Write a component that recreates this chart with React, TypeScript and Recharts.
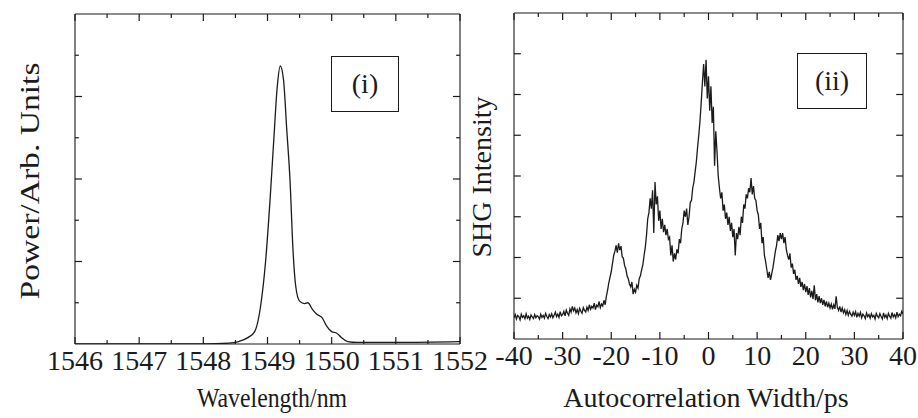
import React from 'react';
import { LineChart, Line, XAxis, YAxis, ReferenceLine } from 'recharts';

// (i) optical spectrum
const wavelengthNm = [
  1546, 1547, 1548, 1548.4, 1548.55, 1548.7, 1548.8, 1548.9, 1548.97, 1549.04,
  1549.1, 1549.15, 1549.2, 1549.25, 1549.3, 1549.35, 1549.4, 1549.44, 1549.5, 1549.58,
  1549.63, 1549.7, 1549.77, 1549.85, 1549.92, 1550.0, 1550.08, 1550.15, 1550.25, 1550.4,
  1551, 1552,
];
const spectrumPower = [
  0, 0, 0, 0.01, 0.03, 0.08, 0.15, 0.5, 1.0, 1.75,
  2.5, 3.1, 3.37, 3.2, 2.6, 2.0, 1.1, 0.7, 0.52, 0.49,
  0.5, 0.42, 0.36, 0.32, 0.22, 0.15, 0.13, 0.08, 0.03, 0.02,
  0.02, 0.03,
];
const wavelengthTicks = [1546, 1547, 1548, 1549, 1550, 1551, 1552];
const wavelengthMinorTicks = [1546.5, 1547.5, 1548.5, 1549.5, 1550.5, 1551.5];
const powerTicks = [1, 2, 3];
const powerMinorTicks = [0.5, 1.5, 2.5, 3.5];

// (ii) SHG autocorrelation trace, sampled every 0.25 ps from -40 ps
const delayStartPs = -40;
const delayStepPs = 0.25;
const shgIntensity = [
  // -40 .. -35.25
  0.52, 0.6, 0.49, 0.58, 0.55, 0.47, 0.61, 0.53, 0.57, 0.5, 0.62, 0.51, 0.56, 0.48, 0.59, 0.54, 0.5, 0.6, 0.52, 0.57,
  // -35 .. -30.25
  0.55, 0.49, 0.61, 0.53, 0.58, 0.51, 0.63, 0.55, 0.5, 0.6, 0.54, 0.62, 0.52, 0.58, 0.66, 0.55, 0.61, 0.53, 0.67, 0.57,
  // -30 .. -25.25
  0.6, 0.68, 0.57, 0.71, 0.63, 0.58, 0.74, 0.66, 0.8, 0.69, 0.76, 0.64, 0.72, 0.62, 0.75, 0.68, 0.63, 0.77, 0.7, 0.66,
  // -25 .. -20.25
  0.78, 0.7, 0.84, 0.73, 0.8, 0.76, 0.88, 0.72, 0.83, 0.79, 0.92, 0.77, 0.86, 0.81, 0.95, 0.84, 1.05, 1.2, 1.38, 1.52,
  // -20 .. -15.25
  1.65, 1.85, 2.05, 2.15, 2.3, 2.12, 2.35, 2.18, 2.28, 2.02, 1.98, 1.8, 1.72, 1.55, 1.48, 1.35, 1.28, 1.4, 1.1, 1.22,
  // -15 .. -10.25
  1.15, 1.32, 1.25, 1.48, 1.55, 1.7, 1.82, 2.05, 2.25, 2.55, 2.95, 3.1, 3.45, 3.2, 3.65, 2.6, 3.85, 3.3, 3.5, 2.9,
  // -10 .. -5.25
  3.15, 2.7, 2.95, 2.62, 2.8, 2.55, 2.7, 2.45, 2.5, 2.05, 2.3, 1.9, 2.1, 1.95, 2.2, 2.1, 2.45, 2.35, 2.7, 2.85,
  // -5 .. -0.25
  3.15, 3.0, 3.2, 2.8, 3.0, 3.35, 3.4, 3.7, 3.85, 4.1, 4.35, 4.7, 5.0, 5.35, 5.8, 6.3, 6.75, 6.2, 6.85, 5.9,
  // 0 .. 4.75
  6.45, 5.6, 6.2, 5.3, 5.7, 4.25, 5.1, 4.6, 4.0, 3.7, 3.45, 3.6, 3.15, 3.3, 2.95, 3.1, 2.8, 3.0, 2.65, 2.85,
  // 5 .. 9.75
  2.5, 2.7, 2.05, 2.6, 2.45, 2.75, 2.55, 3.0, 2.85, 3.3, 3.2, 3.55, 3.45, 3.7, 3.6, 3.95, 3.55, 3.75, 3.45, 3.4,
  // 10 .. 14.75
  3.15, 3.05, 2.7, 2.85, 2.35, 2.5, 2.05, 1.9, 1.7, 1.5, 1.65, 1.45, 1.6, 1.75, 1.95, 2.15, 2.3, 2.55, 2.4, 2.6,
  // 15 .. 19.75
  2.45, 2.6, 2.35, 2.5, 2.2, 2.05, 1.95, 2.1, 1.75, 1.85, 1.6, 1.7, 1.45, 1.55, 1.35, 1.5, 1.28, 1.4, 1.2, 1.35,
  // 20 .. 24.75
  1.15, 1.3, 1.08, 1.25, 1.02, 1.18, 0.98, 1.32, 0.95, 1.1, 0.9, 1.05, 0.88, 1.0, 0.84, 0.96, 0.8, 0.92, 0.78, 0.88,
  // 25 .. 29.75
  0.76, 0.86, 0.73, 0.84, 0.74, 1.05, 0.78, 0.7, 0.8, 0.66, 0.76, 0.64, 0.72, 0.6, 0.7, 0.58, 0.68, 0.61, 0.56, 0.66,
  // 30 .. 34.75
  0.58, 0.67, 0.53, 0.63, 0.56, 0.65, 0.52, 0.61, 0.57, 0.5, 0.64, 0.55, 0.6, 0.51, 0.62, 0.54, 0.58, 0.49, 0.63, 0.56,
  // 35 .. 39.75
  0.52, 0.62, 0.55, 0.49, 0.64, 0.53, 0.59, 0.5, 0.63, 0.56, 0.51, 0.65, 0.54, 0.6, 0.52, 0.66, 0.55, 0.61, 0.57, 0.68,
  // 40
  0.62,
];
const delayTicks = [-40, -30, -20, -10, 0, 10, 20, 30, 40];
const delayMinorTicks = [-35, -25, -15, -5, 5, 15, 25, 35];
const shgTicks = [1, 2, 3, 4, 5, 6, 7];

const spectrumData = wavelengthNm.map((wl, i) => ({ wl, p: spectrumPower[i] }));
const shgData = shgIntensity.map((v, i) => ({ t: delayStartPs + i * delayStepPs, v }));

const INK = '#1b1b1b';
const FONT = "'Liberation Serif', 'DejaVu Serif', serif";

// tick labels under the frame (y arrives at the frame's bottom edge)
const TickLabel = (props: any) => {
  const { x, y, payload } = props;
  return (
    <text x={x} y={y + 26} textAnchor="middle" fontFamily={FONT} fontSize={28} fill={INK}>
      {payload.value}
    </text>
  );
};
const NoTick = () => <g />;

function frameAxes(xKey: string, domainX: [number, number], majorX: number[], domainY: [number, number]) {
  const common = {
    type: 'number' as const,
    allowDataOverflow: true,
    mirror: true,
    tickSize: 0,
    tickMargin: 0,
    interval: 0 as const,
    tickLine: false,
    axisLine: { stroke: INK, strokeWidth: 1.1 },
  };
  return [
    <XAxis key="xb" xAxisId="x" dataKey={xKey} {...common} height={1} domain={domainX} ticks={majorX} orientation="bottom" tick={TickLabel} />,
    <XAxis key="xt" xAxisId="xt" dataKey={xKey} {...common} height={1} domain={domainX} ticks={majorX} orientation="top" tick={NoTick} />,
    <YAxis key="yl" yAxisId="y" {...common} width={1} domain={domainY} orientation="left" tick={NoTick} />,
    <YAxis key="yr" yAxisId="yr" {...common} width={1} domain={domainY} orientation="right" tick={NoTick} />,
  ];
}

// inward tick marks as short segments on the data scales; dx/dy = mark length in axis units
function tickMarks(
  domainX: [number, number],
  domainY: [number, number],
  xs: number[],
  ys: number[],
  dx: number,
  dy: number,
  prefix: string,
) {
  const s = { xAxisId: 'x', yAxisId: 'y', stroke: INK, strokeWidth: 1.2, ifOverflow: 'visible' as const };
  const out: React.ReactNode[] = [];
  xs.forEach((x, i) => {
    out.push(<ReferenceLine key={`${prefix}b${i}`} {...s} segment={[{ x, y: domainY[0] }, { x, y: domainY[0] + dy }]} />);
    out.push(<ReferenceLine key={`${prefix}t${i}`} {...s} segment={[{ x, y: domainY[1] }, { x, y: domainY[1] - dy }]} />);
  });
  ys.forEach((y, i) => {
    out.push(<ReferenceLine key={`${prefix}l${i}`} {...s} segment={[{ x: domainX[0], y }, { x: domainX[0] + dx, y }]} />);
    out.push(<ReferenceLine key={`${prefix}r${i}`} {...s} segment={[{ x: domainX[1], y }, { x: domainX[1] - dx, y }]} />);
  });
  return out;
}

const textBase: React.CSSProperties = {
  position: 'absolute',
  fontFamily: FONT,
  fontSize: 28,
  color: INK,
  whiteSpace: 'nowrap',
  lineHeight: 1,
};

function HText({ cx, cy, sx = 1, children }: { cx: number; cy: number; sx?: number; children: React.ReactNode }) {
  return (
    <div style={{ ...textBase, left: cx, top: cy, transform: `translate(-50%, -50%) scale(${sx}, 1)` }}>{children}</div>
  );
}

function VText({ cx, cy, sy = 1, children }: { cx: number; cy: number; sy?: number; children: React.ReactNode }) {
  return (
    <div style={{ ...textBase, left: cx, top: cy, transform: `translate(-50%, -50%) scale(1, ${sy}) rotate(-90deg)` }}>
      {children}
    </div>
  );
}

function PanelTag({ x, y, w, h, label }: { x: number; y: number; w: number; h: number; label: string }) {
  return (
    <div
      style={{
        position: 'absolute',
        left: x,
        top: y,
        width: w,
        height: h,
        border: `1px solid ${INK}`,
        boxSizing: 'border-box',
      }}
    >
      <HText cx={w / 2 - 1} cy={h / 2 - 1}>{label}</HText>
    </div>
  );
}

export default function App() {
  return (
    <div style={{ position: 'absolute', left: 0, top: 0, width: 918, height: 418, background: '#fff', overflow: 'hidden' }}>
      <div style={{ position: 'absolute', left: 0, top: 0 }}>
        <LineChart width={490} height={418} data={spectrumData} margin={{ top: 14, left: 75, right: 30, bottom: 74 }}>
          {frameAxes('wl', [1546, 1552], wavelengthTicks, [0, 4])}
          <Line xAxisId="xt" yAxisId="yr" dataKey="p" stroke="none" dot={false} activeDot={false} isAnimationActive={false} />
          <Line
            xAxisId="x"
            yAxisId="y"
            dataKey="p"
            type="monotone"
            stroke={INK}
            strokeWidth={1.3}
            dot={false}
            activeDot={false}
            isAnimationActive={false}
          />
          {tickMarks([1546, 1552], [0, 4], wavelengthTicks, powerTicks, 0.11, 0.085, 'M')}
          {tickMarks([1546, 1552], [0, 4], wavelengthMinorTicks, powerMinorTicks, 0.06, 0.048, 'm')}
        </LineChart>
      </div>
      <div style={{ position: 'absolute', left: 490, top: 0 }}>
        <LineChart width={428} height={418} data={shgData} margin={{ top: 13, left: 24, right: 15, bottom: 79 }}>
          {frameAxes('t', [-40, 40], delayTicks, [0, 8])}
          <Line xAxisId="xt" yAxisId="yr" dataKey="v" stroke="none" dot={false} activeDot={false} isAnimationActive={false} />
          <Line
            xAxisId="x"
            yAxisId="y"
            dataKey="v"
            type="linear"
            stroke={INK}
            strokeWidth={1.3}
            dot={false}
            activeDot={false}
            isAnimationActive={false}
          />
          {tickMarks([-40, 40], [0, 8], delayTicks, shgTicks, 1.4, 0.17, 'M')}
          {tickMarks([-40, 40], [0, 8], delayMinorTicks, [], 0.8, 0.1, 'm')}
        </LineChart>
      </div>
      <PanelTag x={331} y={56} w={68} h={56} label="(i)" />
      <PanelTag x={797} y={53} w={70} h={56} label="(ii)" />
      <HText cx={272} cy={398} sx={0.85}>Wavelength/nm</HText>
      <HText cx={706} cy={398}>Autocorrelation Width/ps</HText>
      <VText cx={30} cy={181} sy={1.2}>Power/Arb. Units</VText>
      <VText cx={482} cy={177}>SHG Intensity</VText>
    </div>
  );
}
